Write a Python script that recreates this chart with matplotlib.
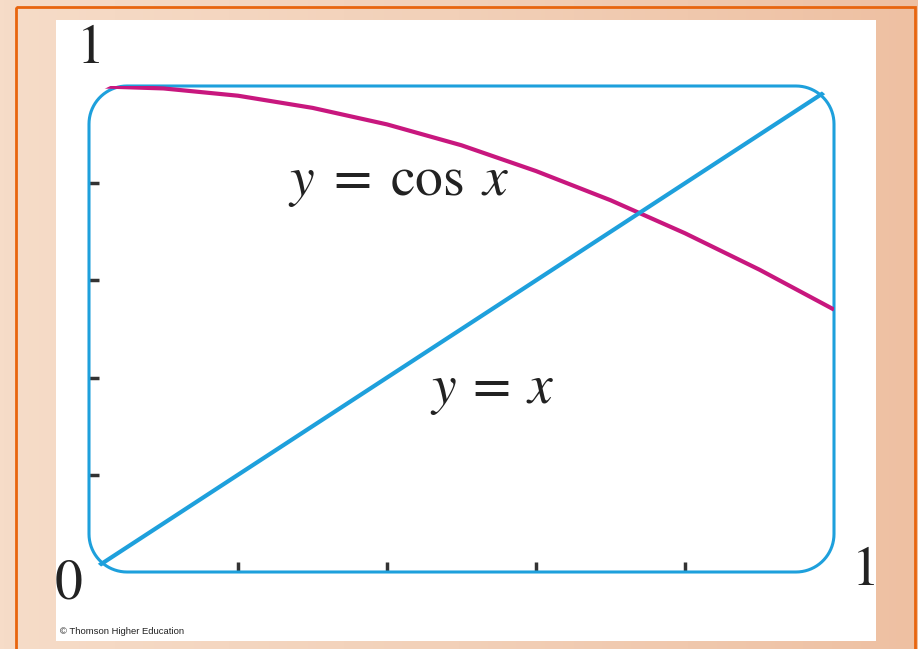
import numpy as np
import matplotlib
matplotlib.use('Agg')
import matplotlib.pyplot as plt
from matplotlib.patches import PathPatch, Rectangle
from matplotlib.path import Path

# values
x_vals = [0.0, 0.1, 0.2, 0.3, 0.4, 0.5, 0.6, 0.7, 0.8, 0.9, 1.0]
cos_vals = [1.0, 0.995, 0.980, 0.955, 0.921, 0.878, 0.825, 0.765, 0.697, 0.622, 0.540]
line_x = [0.0, 1.0]
line_y = [0.0, 1.0]
tick_pos = [0.2, 0.4, 0.6, 0.8]

blue = '#1ea0dc'
magenta = '#c8177e'

plt.rcParams['mathtext.fontset'] = 'stix'

W, H = 918, 649
fig = plt.figure(figsize=(W / 100, H / 100), dpi=100)

# background: peach gradient, orange frame, white panel
bg = fig.add_axes([0, 0, 1, 1])
bg.set_xlim(0, W)
bg.set_ylim(H, 0)
bg.axis('off')
grad = np.linspace(0, 1, 256).reshape(1, -1)
cmap = matplotlib.colors.LinearSegmentedColormap.from_list('peach', ['#f6dcc8', '#f2d0b8', '#eec0a2'])
bg.imshow(grad, extent=[0, W, H, 0], aspect='auto', cmap=cmap, zorder=0)
bg.add_patch(Rectangle((16, 7), 899, 660, fill=False, ec='#e8650e', lw=2, zorder=1))
bg.add_patch(Rectangle((56, 20), 820, 621, fc='white', ec='none', zorder=2))
bg.text(60, 632, '\u00a9 Thomson Higher Education', fontsize=6.8, family='Liberation Sans',
        color='#222222', va='center', ha='left', zorder=3)

# plot area in pixels
left, right, top, bottom = 89, 834, 86, 572
ax = fig.add_axes([left / W, (H - bottom) / H, (right - left) / W, (bottom - top) / H])
ax.set_xlim(0, 1)
ax.set_ylim(0, 1)
ax.patch.set_alpha(0)
for s in ax.spines.values():
    s.set_visible(False)


def rounded_box(r_px, grow=0.0):
    # rounded rectangle over the axes, circular corners in pixels
    rx = r_px / (right - left)
    ry = r_px / (bottom - top)
    gx = grow / (right - left)
    gy = grow / (bottom - top)
    x0, x1, y0, y1 = -gx, 1 + gx, -gy, 1 + gy
    pts = []
    for cx, cy, a0 in [(x1 - rx, y0 + ry, -90), (x1 - rx, y1 - ry, 0),
                       (x0 + rx, y1 - ry, 90), (x0 + rx, y0 + ry, 180)]:
        t = np.radians(np.linspace(a0, a0 + 90, 20))
        pts += list(zip(cx + (rx + gx) * np.cos(t), cy + (ry + gy) * np.sin(t)))
    pts.append(pts[0])
    return Path(pts, closed=True)


box = PathPatch(rounded_box(38), fill=False, ec=blue, lw=2.2, zorder=3, clip_on=False)
ax.add_patch(box)

l1, = ax.plot(x_vals, cos_vals, color=magenta, lw=3, zorder=4, solid_capstyle='butt')
l2, = ax.plot(line_x, line_y, color=blue, lw=3, zorder=4, solid_capstyle='butt')
clip = PathPatch(rounded_box(38, grow=1.5), transform=ax.transData, fill=False, visible=False)
ax.add_patch(clip)
l1.set_clip_path(clip)
l2.set_clip_path(clip)

ax.set_xticks(tick_pos)
ax.set_yticks(tick_pos)
ax.tick_params(direction='in', length=7, width=2.5, color='#333333',
               labelbottom=False, labelleft=False)

ax.text(0.416, 0.776, r'$y\;=\;\mathrm{cos}\;\,x$', fontsize=40, ha='center', va='baseline', color='#222222')
ax.text(0.542, 0.348, r'$y\:=\:x$', fontsize=40, ha='center', va='baseline', color='#222222')

num = dict(fontsize=40, family='STIXGeneral', color='#222222', ha='center', va='center', clip_on=False)
ax.text(0.002, 1.074, '1', **num)
ax.text(-0.028, -0.027, '0', **num)
ax.text(1.042, 0.0, '1', **num)

fig.savefig('out.png', dpi=100)
